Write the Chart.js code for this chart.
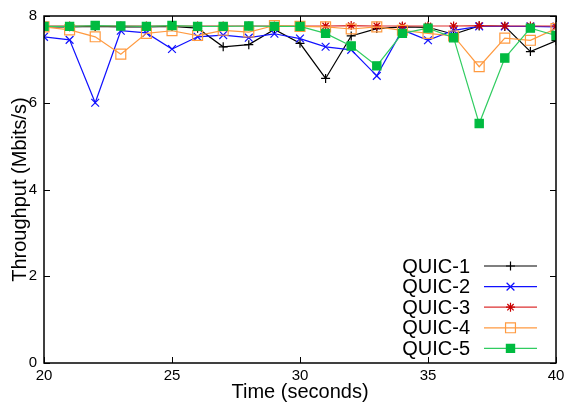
<!DOCTYPE html>
<html>
<head>
<meta charset="utf-8">
<script src="https://cdn.jsdelivr.net/npm/chart.js@4"></script>
<style>
  html, body { margin: 0; padding: 0; background: #fff; }
  #wrap { width: 570px; height: 404px; }
</style>
</head>
<body>
<div id="wrap"><canvas id="tputChart"></canvas></div>
<script>
const times = [20, 21, 22, 23, 24, 25, 26, 27, 28, 29, 30, 31, 32, 33, 34, 35, 36, 37, 38, 39, 40];
const quic1 = [7.75, 7.75, 7.76, 7.75, 7.75, 7.76, 7.72, 7.29, 7.34, 7.69, 7.37, 6.56, 7.54, 7.71, 7.75, 7.74, 7.58, 7.77, 7.76, 7.18, 7.43];
const quic2 = [7.52, 7.45, 6.0, 7.66, 7.61, 7.24, 7.52, 7.56, 7.5, 7.59, 7.48, 7.29, 7.22, 6.62, 7.68, 7.44, 7.67, 7.76, 7.76, 7.76, 7.75];
const quic3 = [7.77, 7.77, 7.77, 7.77, 7.77, 7.77, 7.77, 7.77, 7.77, 7.77, 7.77, 7.77, 7.78, 7.77, 7.77, 7.77, 7.77, 7.78, 7.77, 7.77, 7.77];
const quic4 = [7.75, 7.68, 7.52, 7.12, 7.6, 7.66, 7.55, 7.67, 7.63, 7.78, 7.76, 7.75, 7.7, 7.75, 7.67, 7.6, 7.54, 6.83, 7.49, 7.44, 7.71];
const quic5 = [7.76, 7.76, 7.78, 7.77, 7.76, 7.78, 7.76, 7.76, 7.77, 7.76, 7.76, 7.6, 7.31, 6.85, 7.6, 7.72, 7.5, 5.52, 7.03, 7.72, 7.55];
const xTicks = [20, 25, 30, 35, 40];
const yTicks = [0, 2, 4, 6, 8];

const FONT = "'Liberation Sans', Arial, sans-serif";

function series(label, data, color, lineColor, style, radius, fill, order) {
  return {
    label: label,
    data: times.map((t, i) => ({ x: t, y: data[i] })),
    borderColor: lineColor,
    borderWidth: 1.2,
    pointStyle: style,
    pointRadius: radius,
    pointBorderColor: color,
    pointBackgroundColor: fill ? color : "rgba(0,0,0,0)",
    pointBorderWidth: 1.2,
    fill: false,
    tension: 0,
    order: order,
  };
}

// gnuplot style frame, inward ticks and legend with the sample to the right
const framePlugin = {
  id: "frame",
  afterDatasetsDraw(chart) {
    const { ctx, chartArea: a, scales } = chart;
    ctx.save();
    ctx.strokeStyle = "#000";
    ctx.lineWidth = 1;
    xTicks.forEach((v) => {
      const px = Math.round(scales.x.getPixelForValue(v)) + 0.5;
      ctx.beginPath();
      ctx.moveTo(px, a.bottom); ctx.lineTo(px, a.bottom - 6);
      ctx.moveTo(px, a.top); ctx.lineTo(px, a.top + 6);
      ctx.stroke();
    });
    yTicks.forEach((v) => {
      const py = Math.round(scales.y.getPixelForValue(v)) + 0.5;
      ctx.beginPath();
      ctx.moveTo(a.left, py); ctx.lineTo(a.left + 6, py);
      ctx.moveTo(a.right, py); ctx.lineTo(a.right - 6, py);
      ctx.stroke();
    });
    ctx.lineWidth = 1.5;
    ctx.strokeRect(a.left, a.top, a.right - a.left, a.bottom - a.top);

    // legend
    ctx.font = "20px " + FONT;
    ctx.textAlign = "right";
    ctx.textBaseline = "middle";
    const textX = a.right - 86;
    const lineX0 = a.right - 72;
    const lineX1 = a.right - 19;
    const rowY0 = a.bottom - 97;
    chart.data.datasets.forEach((ds, i) => {
      const y = rowY0 + i * 20.6;
      ctx.fillStyle = "#000";
      ctx.fillText(ds.label, textX, y + 1);
      ctx.strokeStyle = ds.borderColor;
      ctx.lineWidth = ds.borderWidth;
      ctx.beginPath();
      ctx.moveTo(lineX0, y); ctx.lineTo(lineX1, y);
      ctx.stroke();
      ctx.strokeStyle = ds.pointBorderColor;
      ctx.fillStyle = ds.pointBackgroundColor;
      ctx.lineWidth = ds.pointBorderWidth;
      Chart.helpers.drawPoint(ctx, { pointStyle: ds.pointStyle, radius: ds.pointRadius, rotation: 0, borderWidth: ds.pointBorderWidth }, (lineX0 + lineX1) / 2, y);
    });
    ctx.restore();
  },
};

new Chart(document.getElementById("tputChart"), {
  type: "line",
  data: {
    datasets: [
      series("QUIC-1", quic1, "#000000", "#000000", "cross", 4.5, false, 5),
      series("QUIC-2", quic2, "#1010ff", "#1010ff", "crossRot", 5.5, false, 4),
      series("QUIC-3", quic3, "#c80000", "#dd3030", "star", 4.5, false, 3),
      series("QUIC-4", quic4, "#ff9a40", "#ff9a40", "rect", 7, false, 2),
      series("QUIC-5", quic5, "#00bb40", "#30cc60", "rect", 5.8, true, 1),
    ],
  },
  options: {
    responsive: true,
    maintainAspectRatio: false,
    animation: false,
    layout: { padding: { top: 15, right: 14, left: 0, bottom: 0 } },
    plugins: {
      legend: { display: false },
      tooltip: { enabled: false },
      title: { display: false },
    },
    scales: {
      x: {
        type: "linear",
        min: 20,
        max: 40,
        afterBuildTicks: (s) => { s.ticks = xTicks.map((v) => ({ value: v })); },
        afterFit: (s) => { s.height = 41; },
        grid: { display: false, drawTicks: false },
        border: { display: false },
        ticks: { color: "#000", font: { family: FONT, size: 15 }, padding: 4, maxRotation: 0 },
        title: { display: true, text: "Time (seconds)", color: "#000", font: { family: FONT, size: 20 }, padding: { top: -3, bottom: 0 } },
      },
      y: {
        type: "linear",
        min: 0,
        max: 8,
        afterBuildTicks: (s) => { s.ticks = yTicks.map((v) => ({ value: v })); },
        afterFit: (s) => { s.width = 44; },
        grid: { display: false, drawTicks: false },
        border: { display: false },
        ticks: { color: "#000", font: { family: FONT, size: 15 }, padding: 7 },
        title: { display: true, text: "Throughput (Mbits/s)", color: "#000", font: { family: FONT, size: 20 }, padding: { top: 8, bottom: 0 } },
      },
    },
  },
  plugins: [framePlugin],
});
</script>
</body>
</html>
